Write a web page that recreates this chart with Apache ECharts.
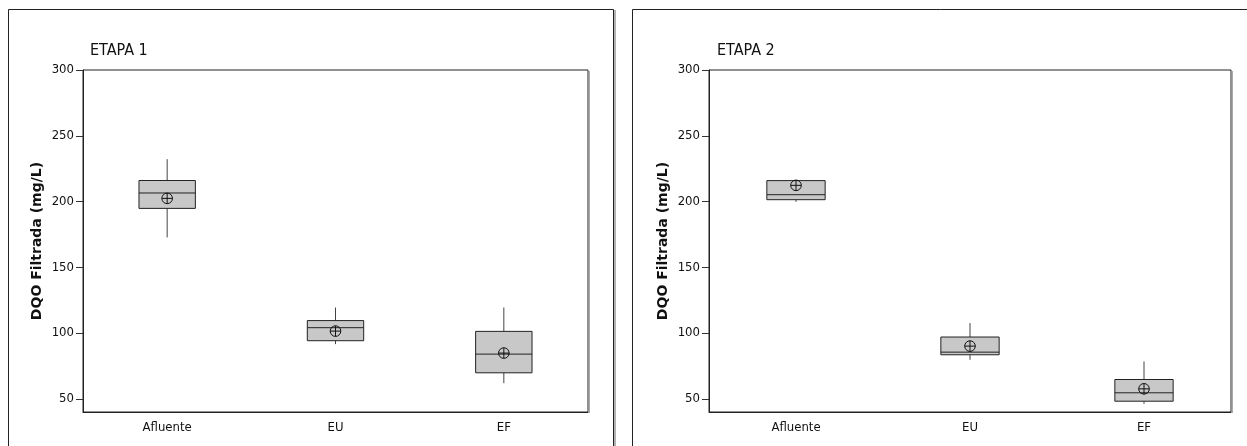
<!DOCTYPE html>
<html>
<head>
<meta charset="utf-8">
<script src="https://cdn.jsdelivr.net/npm/echarts@6/dist/echarts.min.js"></script>
<style>
html,body{margin:0;padding:0;background:#fff;}
#chart{width:1247px;height:446px;}
</style>
</head>
<body>
<div id="chart"></div>
<script>
// ---- data ----
const categories = ['Afluente', 'EU', 'EF'];
const yTicks = [50, 100, 150, 200, 250, 300];
const panelTitles = ['ETAPA 1', 'ETAPA 2'];
const yAxisName = 'DQO Filtrada (mg/L)';

const etapa1Min    = [172.7, 91.6, 61.9];
const etapa1Q1     = [194.8, 94.2, 69.8];
const etapa1Median = [206.5, 104.1, 84.0];
const etapa1Q3     = [216.0, 109.5, 101.3];
const etapa1Max    = [232.2, 119.4, 119.4];
const etapa1Mean   = [202.4, 101.5, 84.8];

const etapa2Min    = [199.8, 79.7, 46.2];
const etapa2Q1     = [201.4, 83.5, 48.2];
const etapa2Median = [205.2, 85.5, 54.6];
const etapa2Q3     = [215.9, 97.0, 64.7];
const etapa2Max    = [215.9, 107.6, 78.4];
const etapa2Mean   = [212.3, 90.1, 57.6];

function rows(mn, q1, md, q3, mx, mean) {
  return categories.map((c, i) => [i, mn[i], q1[i], md[i], q3[i], mx[i], mean[i]]);
}

const FONT = "'DejaVu Sans Condensed', 'DejaVu Sans', sans-serif";

function renderBox(params, api) {
  const idx = api.value(0);
  const pMin = api.coord([idx, api.value(1)]);
  const pQ1 = api.coord([idx, api.value(2)]);
  const pMd = api.coord([idx, api.value(3)]);
  const pQ3 = api.coord([idx, api.value(4)]);
  const pMax = api.coord([idx, api.value(5)]);
  const pMean = api.coord([idx, api.value(6)]);
  const w = api.size([1, 0])[0] * 0.335;
  const x = pMd[0];
  const r = 5.3;
  const children = [];
  if (pMax[1] < pQ3[1] - 0.5) {
    children.push({type: 'line', shape: {x1: x, y1: pMax[1], x2: x, y2: pQ3[1]},
      style: {stroke: '#444', lineWidth: 1}});
  }
  if (pMin[1] > pQ1[1] + 0.5) {
    children.push({type: 'line', shape: {x1: x, y1: pQ1[1], x2: x, y2: pMin[1]},
      style: {stroke: '#444', lineWidth: 1}});
  }
  children.push({type: 'rect', shape: {x: x - w / 2, y: pQ3[1], width: w, height: pQ1[1] - pQ3[1]},
    style: {fill: '#c8c8c8', stroke: '#222', lineWidth: 1}});
  children.push({type: 'line', shape: {x1: x - w / 2, y1: pMd[1], x2: x + w / 2, y2: pMd[1]},
    style: {stroke: '#222', lineWidth: 1}});
  children.push({type: 'circle', shape: {cx: x, cy: pMean[1], r: r},
    style: {fill: 'none', stroke: '#111', lineWidth: 1}});
  children.push({type: 'line', shape: {x1: x - r, y1: pMean[1], x2: x + r, y2: pMean[1]},
    style: {stroke: '#111', lineWidth: 1}});
  children.push({type: 'line', shape: {x1: x, y1: pMean[1] - r, x2: x, y2: pMean[1] + r},
    style: {stroke: '#111', lineWidth: 1}});
  return {type: 'group', children: children};
}

function xAxis(gi) {
  return {
    type: 'category', gridIndex: gi, data: categories, boundaryGap: true,
    axisLine: {lineStyle: {color: '#222', width: 1}},
    axisTick: {alignWithLabel: true, length: 5, lineStyle: {color: '#333'}},
    axisLabel: {color: '#111', fontFamily: FONT, fontSize: 13, margin: 9},
    splitLine: {show: false}
  };
}
function yAxis(gi) {
  return {
    type: 'value', gridIndex: gi, min: 40, max: 300,
    name: yAxisName, nameLocation: 'middle', nameRotate: 90, nameGap: 39,
    nameTextStyle: {fontFamily: "'DejaVu Sans', sans-serif", fontWeight: 'bold', fontSize: 14, color: '#111'},
    axisLine: {show: true, lineStyle: {color: '#222', width: 1}},
    axisTick: {show: true, length: 7, customValues: yTicks, lineStyle: {color: '#333'}},
    axisLabel: {color: '#111', fontFamily: FONT, fontSize: 13, margin: 9, customValues: yTicks},
    splitLine: {show: false}
  };
}

const chart = echarts.init(document.getElementById('chart'), null, {renderer: 'canvas'});
chart.setOption({
  animation: false,
  backgroundColor: '#fff',
  title: [
    {text: panelTitles[0], left: 85, top: 38, textStyle: {fontFamily: FONT, fontSize: 16, fontWeight: 'normal', color: '#111'}},
    {text: panelTitles[1], left: 712, top: 38, textStyle: {fontFamily: FONT, fontSize: 16, fontWeight: 'normal', color: '#111'}}
  ],
  grid: [
    {left: 83, top: 70, width: 505, height: 342, show: true, borderColor: '#222', borderWidth: 1, backgroundColor: 'transparent'},
    {left: 709, top: 70, width: 522, height: 342, show: true, borderColor: '#222', borderWidth: 1, backgroundColor: 'transparent'}
  ],
  xAxis: [xAxis(0), xAxis(1)],
  yAxis: [yAxis(0), yAxis(1)],
  graphic: [
    {type: 'polyline', shape: {points: [[8.5, 450], [8.5, 9.5], [613.5, 9.5], [613.5, 450]]},
      style: {stroke: '#222', lineWidth: 1, fill: 'none'}},
    {type: 'line', shape: {x1: 615, y1: 10, x2: 615, y2: 450}, style: {stroke: '#999', lineWidth: 1.5}},
    {type: 'polyline', shape: {points: [[632.5, 450], [632.5, 9.5], [1260, 9.5]]},
      style: {stroke: '#222', lineWidth: 1, fill: 'none'}},
    {type: 'line', shape: {x1: 589.5, y1: 71, x2: 589.5, y2: 413}, style: {stroke: '#aaa', lineWidth: 1}},
    {type: 'line', shape: {x1: 1232.5, y1: 71, x2: 1232.5, y2: 413}, style: {stroke: '#aaa', lineWidth: 1}}
  ],
  series: [
    {type: 'custom', xAxisIndex: 0, yAxisIndex: 0, renderItem: renderBox,
      data: rows(etapa1Min, etapa1Q1, etapa1Median, etapa1Q3, etapa1Max, etapa1Mean)},
    {type: 'custom', xAxisIndex: 1, yAxisIndex: 1, renderItem: renderBox,
      data: rows(etapa2Min, etapa2Q1, etapa2Median, etapa2Q3, etapa2Max, etapa2Mean)}
  ]
});
</script>
</body>
</html>
